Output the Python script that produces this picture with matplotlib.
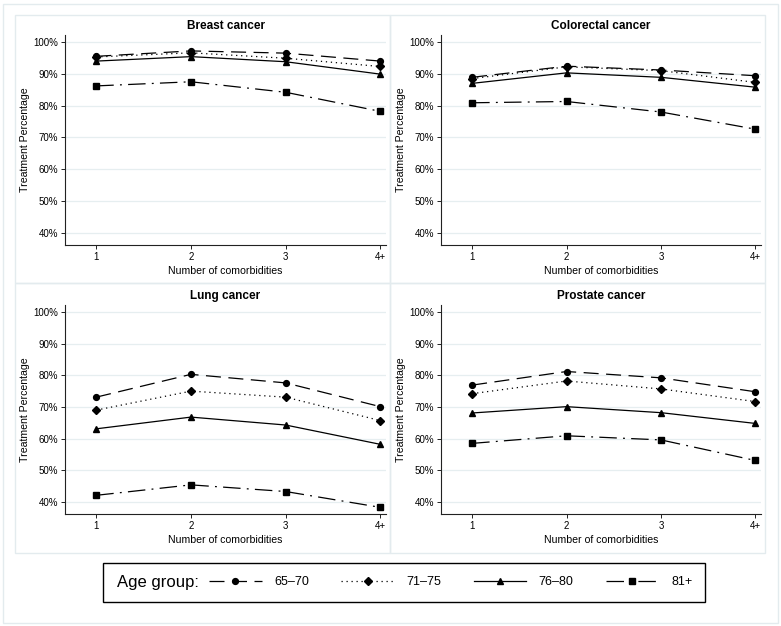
import matplotlib
matplotlib.use("Agg")
import matplotlib.pyplot as plt
from matplotlib.patches import Rectangle

plt.rcParams['font.family'] = ['Liberation Sans', 'DejaVu Sans']

# Data (treatment percentage by number of comorbidities)
comorbidities = ["1", "2", "3", "4+"]
age_groups = ["65\u201370", "71\u201375", "76\u201380", "81+"]
cancers = ["Breast cancer", "Colorectal cancer", "Lung cancer", "Prostate cancer"]

breast_65_70 = [95.5, 97.2, 96.5, 94.0]
breast_71_75 = [95.3, 96.6, 94.9, 92.3]
breast_76_80 = [94.0, 95.4, 93.8, 89.9]
breast_81 = [86.2, 87.5, 84.2, 78.2]

colorectal_65_70 = [88.9, 92.4, 91.2, 89.4]
colorectal_71_75 = [88.5, 92.2, 91.0, 87.3]
colorectal_76_80 = [87.0, 90.3, 88.9, 85.8]
colorectal_81 = [80.9, 81.3, 78.0, 72.6]

lung_65_70 = [73.1, 80.3, 77.6, 70.1]
lung_71_75 = [69.0, 75.0, 73.1, 65.7]
lung_76_80 = [63.1, 66.8, 64.3, 58.2]
lung_81 = [42.1, 45.4, 43.3, 38.3]

prostate_65_70 = [76.9, 81.2, 79.2, 74.8]
prostate_71_75 = [74.2, 78.2, 75.7, 71.7]
prostate_76_80 = [68.1, 70.1, 68.2, 64.8]
prostate_81 = [58.5, 60.9, 59.6, 53.1]

panel_data = [
    [breast_65_70, breast_71_75, breast_76_80, breast_81],
    [colorectal_65_70, colorectal_71_75, colorectal_76_80, colorectal_81],
    [lung_65_70, lung_71_75, lung_76_80, lung_81],
    [prostate_65_70, prostate_71_75, prostate_76_80, prostate_81],
]

# line styles per age group (Stata-like patterns)
styles = [
    dict(linestyle=(0, (12, 6)), marker='o', markersize=4.2),
    dict(linestyle=(0, (1, 3)), marker='D', markersize=4.3),
    dict(linestyle='-', marker='^', markersize=4.5),
    dict(linestyle=(0, (14, 5, 1.5, 5)), marker='s', markersize=4),
]

W, H = 781, 626
fig = plt.figure(figsize=(W / 100, H / 100), dpi=100)
box_color = '#E3EBEE'
grid_color = '#E6EEF0'

# outer frame and panel boxes
fig.patches.append(Rectangle((3 / W, 3 / H), 775 / W, 619 / H, transform=fig.transFigure,
                             fill=False, edgecolor=box_color, lw=1))
for (x0, y0, x1, y1) in [(15, 15, 390, 283), (390, 15, 765, 283),
                         (15, 283, 390, 553), (390, 283, 765, 553)]:
    fig.patches.append(Rectangle((x0 / W, 1 - y1 / H), (x1 - x0) / W, (y1 - y0) / H,
                                 transform=fig.transFigure, fill=False,
                                 edgecolor=box_color, lw=1))

# axes rectangles in pixels: left, right, top, bottom
axes_px = [(65, 386, 35, 245), (441, 761, 35, 245),
           (65, 386, 305, 514), (441, 761, 305, 514)]

x = list(range(1, len(comorbidities) + 1))
handles = []
for i, (l, r, t, b) in enumerate(axes_px):
    ax = fig.add_axes([l / W, 1 - b / H, (r - l) / W, (b - t) / H])
    for j, vals in enumerate(panel_data[i]):
        ln, = ax.plot(x, vals, color='black', lw=0.9, **styles[j])
        if i == 0:
            handles.append(ln)
    ax.set_xlim(0.67, 4.06)
    ax.set_ylim(36.2, 102.2)
    ax.set_yticks([40, 50, 60, 70, 80, 90, 100])
    ax.set_yticklabels([f"{v}%" for v in [40, 50, 60, 70, 80, 90, 100]])
    ax.set_xticks(x)
    ax.set_xticklabels(comorbidities)
    ax.grid(axis='y', color=grid_color, lw=0.9)
    ax.set_axisbelow(True)
    for s in ['top', 'right']:
        ax.spines[s].set_visible(False)
    for s in ['left', 'bottom']:
        ax.spines[s].set_linewidth(0.8)
        ax.spines[s].set_color('#222222')
    ax.tick_params(direction='out', length=3, width=0.7, labelsize=7, pad=2, color='#222222')
    ax.set_ylabel('Treatment Percentage', fontsize=7.6, labelpad=2)
    ax.set_xlabel('Number of comorbidities', fontsize=7.6, labelpad=3)
    ax.set_title(cancers[i], fontsize=8.5, fontweight='bold', pad=4)

# legend box
fig.patches.append(Rectangle((103 / W, 1 - 602 / H), 602 / W, 39 / H,
                             transform=fig.transFigure, fill=False,
                             edgecolor='black', lw=1))
fig.text(117 / W, 1 - 582 / H, 'Age group:', fontsize=12, va='center', ha='left')
fig.legend(handles, age_groups, loc='center left',
           bbox_to_anchor=(209 / W, 1 - 582 / H), frameon=False, ncol=4,
           fontsize=9, handlelength=4.2, handletextpad=1.0, columnspacing=2.6,
           borderpad=0, borderaxespad=0)

fig.savefig('out.png', dpi=100, facecolor='white')
